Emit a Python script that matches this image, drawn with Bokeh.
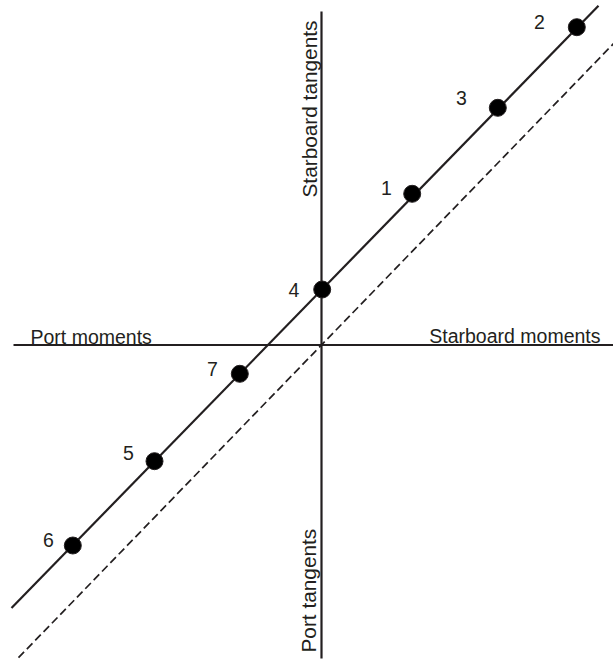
import math
from bokeh.plotting import figure
from bokeh.models import ColumnDataSource
from bokeh.core.properties import value
from bokeh.embed import file_html
from bokeh.resources import INLINE

# Heeling test readings: moment (x) against tangent of heel (y)
point_ids = ["1", "2", "3", "4", "5", "6", "7"]
moments = [9.07, 25.53, 17.63, 0.07, -16.70, -24.87, -8.17]
tangents = [15.12, 31.78, 23.72, 5.55, -11.62, -20.05, -2.88]

# Fitted line through the readings and the parallel line through the origin
fit_slope = 1.026
fit_intercept = 5.5
fit_x_span = [-31.0, 27.7]
ref_slope = 1.032
ref_intercept = 0.0
ref_x_span = [-30.3, 29.2]

# Axis extents
moment_axis_span = [-30.8, 29.2]
tangent_axis_span = [-31.35, 33.35]

axis_titles = ["Port moments", "Starboard moments", "Starboard tangents", "Port tangents"]

# ---- layout / style ----
W, H = 613, 659
X_RANGE = (-32.1, 29.2)
Y_RANGE = (-31.45, 34.45)
INK = "#231f20"
FONT = value("Liberation Sans")
FSIZE = value("19.5px")
FSIZE_V = value("20.8px")

# screen offsets (px, y down) of each number from its point
label_dx = [-25.7, -37.3, -36.3, -28.2, -26.0, -24.3, -27.3]
label_dy = [-5.8, -5.2, -10.3, 0.0, -8.7, -6.0, -4.8]

p = figure(width=W, height=H, x_range=X_RANGE, y_range=Y_RANGE,
           output_backend="svg", toolbar_location=None,
           min_border=0, min_border_left=0, min_border_right=0,
           min_border_top=0, min_border_bottom=0)
p.xaxis.visible = False
p.yaxis.visible = False
p.grid.visible = False
p.outline_line_color = None
p.background_fill_color = "white"
p.border_fill_color = "white"

# cross axes
p.line(moment_axis_span, [0, 0], line_color=INK, line_width=2.2)
p.line([0, 0], tangent_axis_span, line_color=INK, line_width=2.2)

# fitted line
fx = list(fit_x_span)
p.line(fx, [fit_intercept + fit_slope * x for x in fx], line_color=INK, line_width=2.2)

# reference dashed line
rx = list(ref_x_span)
p.line(rx, [ref_intercept + ref_slope * x for x in rx], line_color=INK,
       line_width=1.7, line_dash="8 4")

# points
src = ColumnDataSource(dict(x=moments, y=tangents, lab=point_ids,
                            dx=label_dx, dy=label_dy))
p.scatter("x", "y", source=src, size=17, fill_color="black", line_color=INK)
p.text("x", "y", text="lab", source=src, x_offset="dx", y_offset="dy",
       text_align="center", text_baseline="middle", text_color=INK,
       text_font=FONT, text_font_size=FSIZE)

# axis titles
p.text([-29.1], [0.85], text=[axis_titles[0]], text_align="left",
       text_baseline="alphabetic", text_color=INK, text_font=FONT, text_font_size=FSIZE)
p.text([27.9], [0.95], text=[axis_titles[1]], text_align="right",
       text_baseline="alphabetic", text_color=INK, text_font=FONT, text_font_size=FSIZE)
p.text([-1.2], [14.75], text=[axis_titles[2]], angle=math.pi / 2, text_align="left",
       text_baseline="alphabetic", text_color=INK, text_font=FONT, text_font_size=FSIZE_V)
p.text([-1.3], [-30.75], text=[axis_titles[3]], angle=math.pi / 2, text_align="left",
       text_baseline="alphabetic", text_color=INK, text_font=FONT, text_font_size=FSIZE_V)

open("out.html", "w").write(file_html(p, INLINE))
